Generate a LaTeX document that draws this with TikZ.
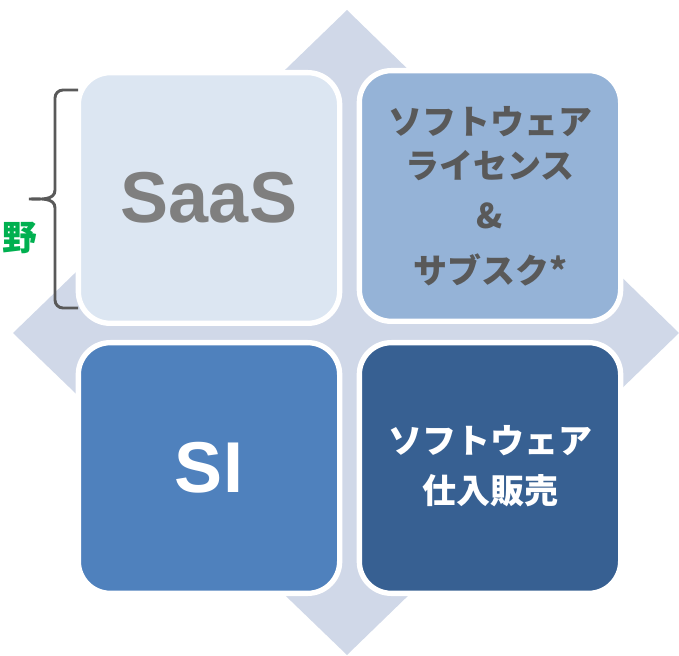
\documentclass[tikz,border=0pt]{standalone}
\usepackage{fontspec}
\setmainfont{Liberation Sans}
\newfontfamily\jpfont{Noto Sans CJK JP}
\usepackage{tikz}
\usetikzlibrary{positioning}
\definecolor{diamondgray}{RGB}{208,216,232}
\definecolor{saasblue}{RGB}{220,230,242}
\definecolor{licblue}{RGB}{149,179,215}
\definecolor{siblue}{RGB}{79,129,189}
\definecolor{resaleblue}{RGB}{55,96,146}
\definecolor{textgray}{RGB}{127,127,127}
\definecolor{darkgray}{RGB}{89,89,89}
\definecolor{fieldgreen}{RGB}{0,176,80}

\begin{document}
\begin{tikzpicture}[x=0.75pt,y=-0.75pt]
\tikzstyle{tile}=[rounded corners=24pt,draw=white,line width=4pt,minimum width=196pt,minimum height=188pt,inner sep=0pt,align=center]
\tikzstyle{latin}=[font=\bfseries\fontsize{54}{60}\selectfont]
\tikzstyle{jp}=[font=\jpfont\bfseries\fontsize{25.5}{33}\selectfont]
    \useasboundingbox (0,0) rectangle (679,656);
    \fill[diamondgray] (347,10) -- (679,333) -- (347,655) -- (13,333) -- cycle;
    \node[tile,latin,fill=saasblue,text=textgray] (saas) at (209,198) {SaaS};
    \node[tile,jp,fill=licblue,text=darkgray] (license) at (490,196) {ソフトウェア\\ライセンス\\[5pt]\&\\[8pt]サブスク*};
    \node[tile,jp,fill=resaleblue,text=white] (resale) at (490,468) {};
    \node[jp,text=white,align=center] (resaletext) at (490,466) {ソフトウェア\\[5pt]仕入販売};
    \node[tile,latin,fill=siblue,text=white] (si) at (209,468) {SI};
    \node[font=\jpfont\bfseries\fontsize{26}{30}\selectfont,text=fieldgreen,anchor=east,inner sep=0pt] (field) at (37,238) {野};
    \draw[darkgray,line width=2.2pt] (78,90) -- (63,90) to[out=180,in=90] (55,98) -- (55,190)
        to[out=270,in=0] (29,199) to[out=0,in=90] (55,208) -- (55,300)
        to[out=270,in=180] (63,308) -- (78,308);
\end{tikzpicture}
\end{document}
